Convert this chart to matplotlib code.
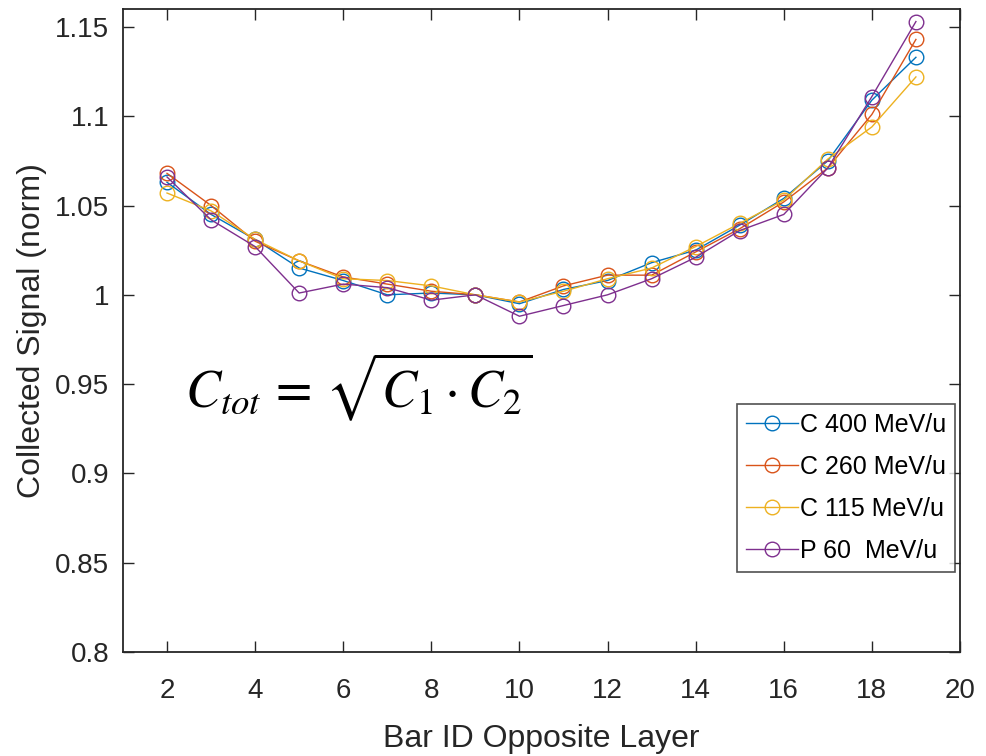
import numpy as np
import matplotlib
matplotlib.use('Agg')
import matplotlib.pyplot as plt

plt.rcParams['font.family'] = ['Liberation Sans', 'DejaVu Sans']
plt.rcParams['mathtext.fontset'] = 'stix'

bar_id = [2, 3, 4, 5, 6, 7, 8, 9, 10, 11, 12, 13, 14, 15, 16, 17, 18, 19]

c400 = [1.063, 1.045, 1.031, 1.015, 1.008, 1.000, 1.001, 1.000, 0.995, 1.003, 1.008, 1.018, 1.025, 1.039, 1.054, 1.075, 1.109, 1.133]
c260 = [1.068, 1.050, 1.030, 1.019, 1.010, 1.006, 1.002, 1.000, 0.996, 1.005, 1.011, 1.011, 1.024, 1.037, 1.052, 1.071, 1.101, 1.143]
c115 = [1.057, 1.047, 1.031, 1.019, 1.009, 1.008, 1.005, 1.000, 0.996, 1.002, 1.009, 1.015, 1.027, 1.040, 1.053, 1.076, 1.094, 1.122]
p60 = [1.066, 1.042, 1.027, 1.001, 1.006, 1.004, 0.997, 1.000, 0.988, 0.994, 1.000, 1.009, 1.021, 1.036, 1.045, 1.071, 1.111, 1.153]

labels = ['C 400 MeV/u', 'C 260 MeV/u', 'C 115 MeV/u', 'P 60  MeV/u']
colors = ['#0072BD', '#D95319', '#EDB120', '#7E2F8E']

fig = plt.figure(figsize=(9.86, 7.56), dpi=100)
ax = fig.add_axes([0.1247, 0.1376, 0.8489, 0.8504])

for y, lab, c in zip([c400, c260, c115, p60], labels, colors):
    ax.plot(bar_id, y, '-o', color=c, lw=1.0, markersize=10.5,
            markerfacecolor='none', markeredgewidth=1.0, label=lab)

ax.set_xlim(1, 20)
ax.set_ylim(0.8, 1.16)
ax.set_xticks(np.arange(2, 21, 2))
ax.set_yticks([0.8, 0.85, 0.9, 0.95, 1.0, 1.05, 1.1, 1.15])
ax.set_yticklabels(['0.8', '0.85', '0.9', '0.95', '1', '1.05', '1.1', '1.15'])

ax.tick_params(direction='in', length=8, width=1.0, top=True, right=True,
               labelsize=20, colors='#262626')
ax.tick_params(axis='x', pad=19)
ax.tick_params(axis='y', pad=10)
for s in ax.spines.values():
    s.set_color('#262626')
    s.set_linewidth(1.3)

ax.set_xlabel('Bar ID Opposite Layer', fontsize=23, color='#262626', labelpad=14)
ax.set_ylabel('Collected Signal (norm)', fontsize=23, color='#262626', labelpad=6)

ax.text(2.41, 0.937, r'$C_{tot}\,=\,\sqrt{C_1 \cdot C_2}$', fontsize=38,
        color='black', ha='left', va='baseline')

leg = ax.legend(loc='lower right', bbox_to_anchor=(0.9935, 0.125), fontsize=18,
                frameon=True, fancybox=False, edgecolor='#262626',
                handlelength=2.1, borderpad=0.35, labelspacing=0.72,
                handletextpad=0.05, borderaxespad=0.0)
leg.get_frame().set_linewidth(1.2)

fig.savefig('out.png', dpi=100)
